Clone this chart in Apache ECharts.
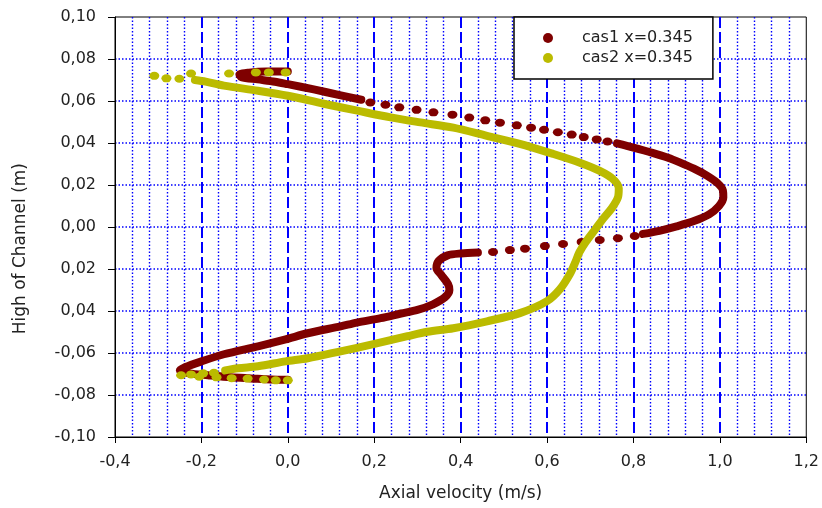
<!DOCTYPE html>
<html>
<head>
<meta charset="utf-8">
<script src="https://cdn.jsdelivr.net/npm/echarts@6/dist/echarts.min.js"></script>
<style>
html,body{margin:0;padding:0;background:#fff;}
#chart{width:822px;height:508px;}
</style>
</head>
<body>
<div id="chart"></div>
<script>
// ---- tick labels (as printed in the original) ----
var xTickValues = [-0.4, -0.2, 0.0, 0.2, 0.4, 0.6, 0.8, 1.0, 1.2];
var xTickLabels = ['-0,4', '-0,2', '0,0', '0,2', '0,4', '0,6', '0,8', '1,0', '1,2'];
var yTickValues = [0.10, 0.08, 0.06, 0.04, 0.02, 0.00, -0.02, -0.04, -0.06, -0.08, -0.10];
var yTickLabels = ['0,10', '0,08', '0,06', '0,04', '0,02', '0,00', '0,02', '0,04', '-0,06', '-0,08', '-0,10'];

var seriesNames = ['cas1 x=0.345', 'cas2 x=0.345'];

// ---- cas1 : [axial velocity, height] ----
var cas1Line1 = [[0.0,0.0740],[-0.05,0.0740],[-0.09,0.0735],[-0.112,0.0726],[-0.108,0.0714],[-0.07,0.0703],[-0.03,0.0692],[0.0,0.0680],[0.06,0.0655],[0.12,0.0628],[0.17,0.0606]];
var cas1Dots1 = [[0.191,0.0593],[0.226,0.0582],[0.258,0.0570],[0.298,0.0558],[0.337,0.0546],[0.381,0.0535],[0.420,0.0521],[0.457,0.0508],[0.491,0.0497],[0.530,0.0484],[0.563,0.0473],[0.593,0.0463],[0.625,0.0451],[0.657,0.0440],[0.685,0.0428],[0.715,0.0417],[0.740,0.0407]];
var cas1Line2 = [[0.762,0.0398],[0.800,0.0378],[0.844,0.0353],[0.880,0.0330],[0.907,0.0308],[0.940,0.0278],[0.970,0.0245],[0.994,0.0210],[1.007,0.0175],[1.008,0.0140],[0.998,0.0100],[0.975,0.0060],[0.940,0.0028],[0.900,0.0003],[0.860,-0.0018],[0.822,-0.0033]];
var cas1Dots2 = [[0.803,-0.0043],[0.764,-0.0053],[0.722,-0.0062],[0.680,-0.0071],[0.637,-0.0081],[0.595,-0.0091],[0.549,-0.0103],[0.514,-0.0110],[0.475,-0.0119]];
var cas1Line3 = [[0.440,-0.0122],[0.400,-0.0126],[0.370,-0.0135],[0.349,-0.0162],[0.344,-0.0195],[0.355,-0.0228],[0.371,-0.0272],[0.374,-0.0300],[0.364,-0.0334],[0.336,-0.0368],[0.300,-0.0395],[0.262,-0.0412],[0.215,-0.0434],[0.160,-0.0455],[0.122,-0.0473],[0.046,-0.0506],[-0.005,-0.0535],[-0.069,-0.0568],[-0.148,-0.0606],[-0.200,-0.0640],[-0.238,-0.0668],[-0.250,-0.0683],[-0.228,-0.0697],[-0.185,-0.0706],[-0.131,-0.0716],[-0.085,-0.0721],[-0.039,-0.0726],[0.0,-0.0727]];

// ---- cas2 : [axial velocity, height] ----
var cas2Dots1 = [[-0.005,0.0736],[-0.044,0.0736],[-0.074,0.0736],[-0.136,0.0731],[-0.224,0.0731],[-0.309,0.0720],[-0.281,0.0708],[-0.251,0.0706]];
var cas2Line = [[-0.215,0.0700],[-0.190,0.0692],[-0.148,0.0673],[-0.069,0.0649],[0.0,0.0625],[0.083,0.0587],[0.161,0.0554],[0.238,0.0522],[0.307,0.0498],[0.383,0.0473],[0.461,0.0434],[0.537,0.0396],[0.614,0.0348],[0.676,0.0306],[0.722,0.0267],[0.752,0.0229],[0.766,0.0185],[0.764,0.0140],[0.750,0.0090],[0.730,0.0040],[0.712,-0.0010],[0.690,-0.0070],[0.675,-0.0120],[0.665,-0.0170],[0.653,-0.0224],[0.630,-0.0296],[0.600,-0.0353],[0.537,-0.0410],[0.461,-0.0449],[0.383,-0.0482],[0.323,-0.0499],[0.277,-0.0520],[0.198,-0.0558],[0.122,-0.0592],[0.046,-0.0625],[-0.005,-0.0640],[-0.069,-0.0663],[-0.115,-0.0673],[-0.145,-0.0683]];
var cas2Dots2 = [[-0.171,-0.0694],[-0.196,-0.0697],[-0.224,-0.0702],[-0.247,-0.0706],[-0.205,-0.0713],[-0.165,-0.0716],[-0.130,-0.0720],[-0.093,-0.0722],[-0.055,-0.0726],[-0.028,-0.0730],[0.0,-0.0730]];

var RED = '#7f0000';
var YEL = '#bbbb00';
var FONT = 'DejaVu Sans';

function lineSeries(name, data, color, z) {
  return {
    name: name, type: 'line', data: data, smooth: 0.3, showSymbol: false,
    symbol: 'none', silent: true, z: z,
    itemStyle: { color: color },
    lineStyle: { color: color, width: 8, cap: 'round', join: 'round' }
  };
}
function dotSeries(name, data, color, z) {
  return {
    name: name, type: 'scatter', data: data, symbol: 'circle', symbolSize: [10, 8],
    itemStyle: { color: color, opacity: 1 }, silent: true, z: z
  };
}

function findLabel(values, labels, v) {
  for (var i = 0; i < values.length; i++) {
    if (Math.abs(values[i] - v) < 1e-6) return labels[i];
  }
  return '';
}

var chart = echarts.init(document.getElementById('chart'), null, { renderer: 'canvas' });
chart.setOption({
  animation: false,
  backgroundColor: '#ffffff',
  grid: { left: 115, right: 15, top: 17, bottom: 71, show: true, borderColor: '#000', borderWidth: 1, backgroundColor: 'transparent' },
  xAxis: {
    type: 'value', min: -0.4, max: 1.2, interval: 0.2,
    name: 'Axial velocity (m/s)', nameLocation: 'middle', nameGap: 48,
    nameTextStyle: { fontFamily: FONT, fontSize: 17, color: '#222' },
    axisLine: { show: true, onZero: false, lineStyle: { color: '#000', width: 1 } },
    axisTick: { show: true, inside: false, length: 6, lineStyle: { color: '#000' } },
    axisLabel: { margin: 17, fontFamily: FONT, fontSize: 16, color: '#222',
      formatter: function (v) { return findLabel(xTickValues, xTickLabels, v); } },
    splitLine: { show: true, showMinLine: false, showMaxLine: false, lineStyle: { color: '#0000ff', width: 2, type: [11, 4] } },
    minorTick: { show: false, splitNumber: 5 },
    minorSplitLine: { show: true, lineStyle: { color: '#0000ff', width: 1.4, type: [1.5, 2] } }
  },
  yAxis: {
    type: 'value', min: -0.1, max: 0.1, interval: 0.02,
    axisLine: { show: true, onZero: false, lineStyle: { color: '#000', width: 1 } },
    axisTick: { show: true, inside: false, length: 7, lineStyle: { color: '#000' } },
    axisLabel: { margin: 19, fontFamily: FONT, fontSize: 16, color: '#222',
      formatter: function (v) { return findLabel(yTickValues, yTickLabels, v); } },
    splitLine: { show: true, showMinLine: false, showMaxLine: false, lineStyle: { color: '#0000ff', width: 1.5, type: [1.5, 2] } }
  },
  legend: {
    data: [{ name: seriesNames[0], icon: 'circle' }, { name: seriesNames[1], icon: 'circle' }],
    orient: 'vertical', left: 514, top: 17,
    backgroundColor: '#ffffff', borderColor: '#000', borderWidth: 1.5, borderRadius: 0,
    padding: [13, 20, 13, 29], itemGap: 4, itemWidth: 10, itemHeight: 10,
    selectedMode: false, z: 10,
    textStyle: { fontFamily: FONT, fontSize: 16, color: '#222', lineHeight: 16, padding: [0, 0, 0, 24] }
  },
  graphic: [{
    type: 'text', left: 12, top: 163, rotation: Math.PI / 2,
    style: { text: 'High of Channel (m)', font: '17px "DejaVu Sans"', fill: '#222' }
  }],
  series: [
    lineSeries(seriesNames[0], cas1Line1, RED, 2),
    dotSeries(seriesNames[0], cas1Dots1, RED, 2),
    lineSeries(seriesNames[0], cas1Line2, RED, 2),
    dotSeries(seriesNames[0], cas1Dots2, RED, 2),
    lineSeries(seriesNames[0], cas1Line3, RED, 2),
    dotSeries(seriesNames[1], cas2Dots1, YEL, 4),
    lineSeries(seriesNames[1], cas2Line, YEL, 3),
    dotSeries(seriesNames[1], cas2Dots2, YEL, 4)
  ]
});
</script>
</body>
</html>
